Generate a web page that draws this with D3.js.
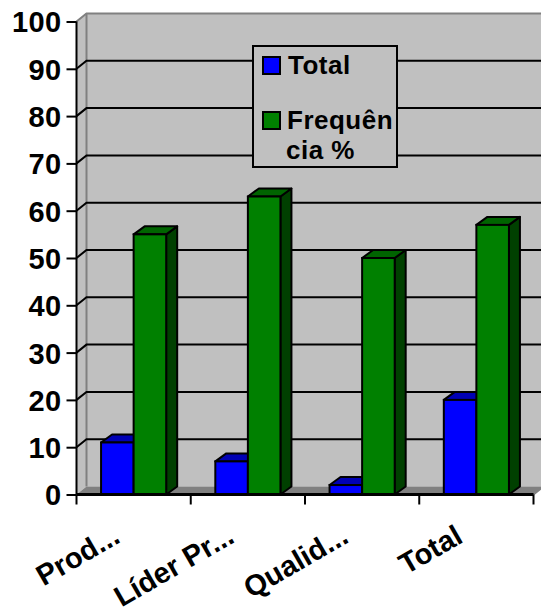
<!DOCTYPE html>
<html>
<head>
<meta charset="utf-8">
<script src="https://cdn.jsdelivr.net/npm/d3@7"></script>
<style>
  html, body { margin: 0; padding: 0; background: #fff; }
  svg { display: block; font-family: "Liberation Sans", Arial, sans-serif; font-weight: bold; }
</style>
</head>
<body>
<svg id="chart" width="541" height="616"></svg>
<script>
// Chart data
const categories = ["Prod...", "Líder Pr...", "Qualid...", "Total"];
const seriesNames = ["Total", "Frequência %"];
const totalValues = [11, 7, 2, 20];
const freqValues = [55, 63, 50, 57];
const yTicks = [0, 10, 20, 30, 40, 50, 60, 70, 80, 90, 100];
const legendLines = [["Total"], ["Frequên", "cia %"]];

const svg = d3.select("#chart");
const W = 541;

// Front plane of the 3D box and depth offset toward the back wall
const left = 76.5, right = 533.5, floorY = 494.5, topY = 21.5;
const dx = 10, dy = -8;
const bdx = 11, bdy = -8;

const y = d3.scaleLinear().domain([0, 100]).range([floorY, topY]);
const x0 = d3.scaleBand().domain(categories).range([left, right]);
const bw = x0.bandwidth();
const x1 = d3.scaleBand().domain(seriesNames).range([bw * 0.215, bw * 0.785]);

const faces = {
  "Total": { front: "#0000ff", top: "#0000b4", side: "#000080" },
  "Frequência %": { front: "#008000", top: "#006400", side: "#004000" }
};

// Back wall
svg.append("rect")
  .attr("x", left + dx).attr("y", topY + dy)
  .attr("width", W - left - dx + 5).attr("height", floorY - topY)
  .attr("fill", "#c0c0c0");
// Side wall
svg.append("polygon")
  .attr("points", [[left, topY], [left + dx, topY + dy], [left + dx, floorY + dy], [left, floorY]].join(" "))
  .attr("fill", "#c0c0c0");
// Floor
svg.append("polygon")
  .attr("points", [[left, floorY], [left + dx, floorY + dy], [right + dx, floorY + dy], [right, floorY]].join(" "))
  .attr("fill", "#808080");

// Wall edges
svg.append("path")
  .attr("d", `M${left},${topY} L${left + dx},${topY + dy} L${W + 5},${topY + dy}`)
  .attr("fill", "none").attr("stroke", "#808080").attr("stroke-width", 2);
svg.append("line")
  .attr("x1", left + dx).attr("x2", left + dx)
  .attr("y1", topY + dy).attr("y2", floorY + dy)
  .attr("stroke", "#808080").attr("stroke-width", 2);
svg.append("path")
  .attr("d", `M${right},${floorY} L${right + dx},${floorY + dy}`)
  .attr("stroke", "#808080").attr("stroke-width", 2);

// Gridlines: across the side wall, then along the back wall
const grid = svg.append("g");
yTicks.filter(v => v > 0 && v < 100).forEach(v => {
  grid.append("path")
    .attr("d", `M${left},${y(v)} L${left + dx},${y(v) + dy} L${W + 5},${y(v) + dy}`)
    .attr("fill", "none").attr("stroke", "#000").attr("stroke-width", 2);
});

// Y axis
const yAxis = d3.axisLeft(y).tickValues(yTicks).tickSize(10).tickPadding(5).tickFormat(d3.format("d"));
const gy = svg.append("g").attr("transform", `translate(${left},0)`).call(yAxis);
gy.select(".domain").attr("stroke", "#000").attr("stroke-width", 2).attr("d", `M0,${topY}V${floorY}`);
gy.selectAll(".tick line").attr("stroke", "#000").attr("stroke-width", 2);
gy.selectAll(".tick text")
  .attr("font-size", 29).attr("font-weight", "bold").attr("fill", "#000")
  .attr("font-family", "Liberation Sans, Arial, sans-serif")
  .attr("letter-spacing", 0.4)
  .attr("dy", "0.36em");

// Bars (front, top and side faces)
const bars = svg.append("g");
categories.forEach((c, i) => {
  const vals = { "Total": totalValues[i], "Frequência %": freqValues[i] };
  seriesNames.forEach(s => {
    const xa = x0(c) + x1(s), xb = xa + x1.bandwidth();
    const yt = y(vals[s]);
    const f = faces[s];
    bars.append("polygon")
      .attr("points", [[xb, yt], [xb + bdx, yt + bdy], [xb + bdx, floorY + bdy], [xb, floorY]].join(" "))
      .attr("fill", f.side).attr("stroke", "#000").attr("stroke-width", 2).attr("stroke-linejoin", "round");
    bars.append("polygon")
      .attr("points", [[xa, yt], [xa + bdx, yt + bdy], [xb + bdx, yt + bdy], [xb, yt]].join(" "))
      .attr("fill", f.top).attr("stroke", "#000").attr("stroke-width", 2).attr("stroke-linejoin", "round");
    bars.append("rect")
      .attr("x", xa).attr("y", yt).attr("width", xb - xa).attr("height", floorY - yt)
      .attr("fill", f.front).attr("stroke", "#000").attr("stroke-width", 2);
  });
});

// X axis
const xAxis = d3.axisBottom(x0).tickValues([]).tickSizeOuter(0);
const gx = svg.append("g").attr("transform", `translate(0,${floorY})`).call(xAxis);
gx.select(".domain").attr("stroke", "#000").attr("stroke-width", 3).attr("d", `M${left},0H${right}`);
const boundaries = categories.map(c => x0(c)).concat([right]);
gx.selectAll(".xtick").data(boundaries).join("line")
  .attr("x1", d => d).attr("x2", d => d).attr("y1", 0).attr("y2", 10)
  .attr("stroke", "#000").attr("stroke-width", 2);

svg.append("g").selectAll("text").data(categories).join("text")
  .attr("transform", d => `translate(${x0(d) + bw / 2 - 12},${floorY + 47}) rotate(-30)`)
  .attr("text-anchor", "end")
  .attr("font-size", 29).attr("fill", "#000")
  .text(d => d);

// Legend
const lg = svg.append("g");
lg.append("rect").attr("x", 253).attr("y", 46).attr("width", 144).attr("height", 121)
  .attr("fill", "#c0c0c0").attr("stroke", "#000").attr("stroke-width", 2);
const swatchY = [57, 112];
const textY = [[74], [129, 159]];
const textX = [[288], [287, 286]];
seriesNames.forEach((s, i) => {
  lg.append("rect").attr("x", 263).attr("y", swatchY[i]).attr("width", 17).attr("height", 17)
    .attr("fill", faces[s].front).attr("stroke", "#000").attr("stroke-width", 2);
  legendLines[i].forEach((t, j) => {
    lg.append("text").attr("x", textX[i][j]).attr("y", textY[i][j])
      .attr("font-size", 26).attr("letter-spacing", 0.5).attr("fill", "#000").text(t);
  });
});
</script>
</body>
</html>
